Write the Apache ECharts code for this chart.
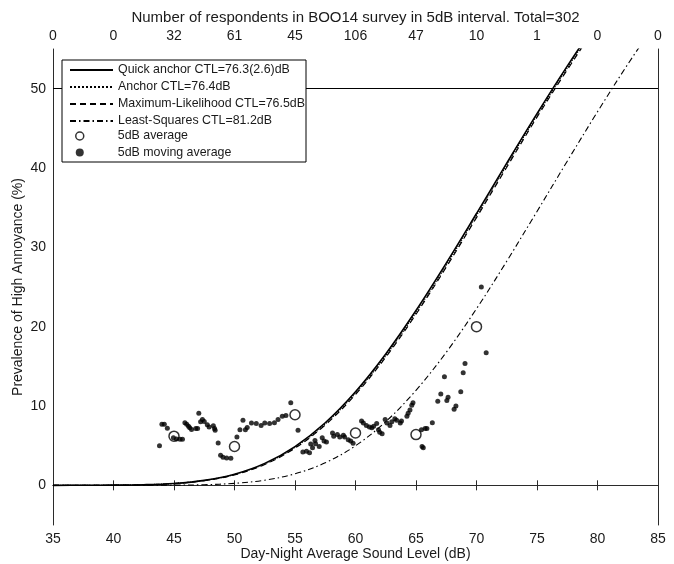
<!DOCTYPE html>
<html>
<head>
<meta charset="utf-8">
<script src="https://cdn.jsdelivr.net/npm/echarts@6/dist/echarts.min.js"></script>
<style>
html,body{margin:0;padding:0;background:#fff;}
#chart{width:674px;height:564px;}
</style>
</head>
<body>
<div id="chart"></div>
<script>
// ---- data ----
const levels = [35, 37.5, 40, 42.5, 45, 47.5, 50, 52.5, 55, 57.5, 60, 62.5, 65, 67.5, 70, 72.5, 75, 77.5, 80, 82.5, 85];
const quickAnchor = [0.0006, 0.004, 0.02, 0.078, 0.24, 0.63, 1.41, 2.77, 4.89, 7.89, 11.80, 16.56, 22.03, 28.00, 34.26, 40.61, 46.85, 52.84, 58.46, 63.65, 68.39];
const anchor = [0.0006, 0.0038, 0.019, 0.074, 0.232, 0.608, 1.365, 2.70, 4.79, 7.75, 11.63, 16.35, 21.80, 27.75, 34.01, 40.36, 46.65, 52.61, 58.28, 63.46, 68.2];
const maxLikelihood = [0.0005, 0.0035, 0.018, 0.070, 0.223, 0.587, 1.325, 2.63, 4.69, 7.61, 11.46, 16.15, 21.57, 27.51, 33.75, 40.10, 46.41, 52.37, 58.07, 63.26, 68.0];
const leastSquares = [0, 0, 0.0007, 0.004, 0.021, 0.082, 0.25, 0.65, 1.45, 2.84, 4.99, 8.02, 11.98, 16.77, 22.26, 28.25, 34.52, 40.86, 47.09, 53.07, 58.68];

const avgLevels = [45, 50, 55, 60, 65, 70];
const avgValues = [6.2, 4.9, 8.9, 6.6, 6.4, 20.0];

const movLevels = [43.8, 44.0, 44.2, 44.45, 44.95, 45.2, 45.5, 45.7, 45.9, 46.05, 46.2, 46.3, 46.45, 46.8, 46.95,
  47.05, 47.2, 47.35, 47.5, 47.75, 47.9, 48.25, 48.35, 48.4, 48.65, 48.85, 49.05, 49.35, 49.7,
  50.2, 50.45, 50.7, 50.9, 51.05, 51.4, 51.8, 52.2, 52.5, 52.9, 53.3, 53.6, 53.95, 54.25, 54.65,
  55.25, 55.65, 55.95, 56.2, 56.3, 56.45, 56.65, 56.7, 57.0, 57.25, 57.4, 57.6, 58.1, 58.2, 58.5, 58.7,
  59.0, 59.1, 59.4, 59.6, 59.8, 60.5, 60.65, 60.9, 61.15, 61.35, 61.5, 61.75, 61.9, 62.0, 62.2,
  62.45, 62.6, 62.85, 63.0, 63.25, 63.4, 63.7, 63.8, 64.25, 64.35, 64.5, 64.65, 64.75,
  65.45, 65.5, 65.6, 65.75, 65.9, 66.35, 66.8, 67.05, 67.35, 67.55, 67.65, 68.15, 68.3, 68.7, 68.9, 69.05, 70.4, 70.8];
const movValues = [5.0, 7.7, 7.7, 7.2, 6.0, 5.85, 5.8, 5.8, 7.9, 7.7, 7.45, 7.25, 7.05, 7.15, 7.15,
  9.1, 8.0, 8.3, 8.05, 7.65, 7.35, 7.5, 7.15, 6.95, 5.35, 3.8, 3.55, 3.45, 3.4,
  6.1, 7.0, 8.2, 7.0, 7.3, 7.85, 7.8, 7.55, 7.85, 7.8, 7.9, 8.3, 8.7, 8.8, 10.4,
  6.95, 4.2, 4.3, 4.1, 5.2, 4.75, 5.65, 5.25, 4.9, 6.0, 5.6, 5.45, 6.6, 6.2, 6.4, 6.1,
  6.3, 6.1, 5.75, 5.6, 5.3, 8.1, 7.85, 7.55, 7.35, 7.25, 7.45, 7.8, 7.0, 6.7, 6.5,
  8.3, 7.85, 7.55, 8.0, 8.4, 8.2, 7.85, 8.1, 8.7, 9.1, 9.5, 10.1, 10.4,
  7.0, 4.9, 4.75, 7.15, 7.15, 7.9, 10.6, 11.5, 13.7, 10.7, 11.1, 9.6, 10.0, 11.8, 14.2, 15.35, 25.0, 16.7];

const respondents = [0, 0, 32, 61, 45, 106, 47, 10, 1, 0, 0];
const yTickValues = [0, 10, 20, 30, 40, 50];
const criterionLine = 50;

const names = {
  qa: 'Quick anchor CTL=76.3(2.6)dB',
  an: 'Anchor CTL=76.4dB',
  ml: 'Maximum-Likelihood CTL=76.5dB',
  ls: 'Least-Squares CTL=81.2dB',
  avg: '5dB average',
  mov: '5dB moving average'
};

function zip(xs, ys) { return xs.map((x, i) => [x, ys[i]]); }

const FONT = 'Liberation Sans, Arial, sans-serif';
const TXT = '#1a1a1a';
const AX = '#2b2b2b';

const chart = echarts.init(document.getElementById('chart'), null, { renderer: 'canvas' });

function lineSeries(name, values, lineStyle) {
  return {
    name: name, type: 'line', data: zip(levels, values),
    symbol: 'none', showSymbol: false, smooth: 0.35, clip: true,
    lineStyle: Object.assign({ color: '#000' }, lineStyle),
    itemStyle: { color: '#000' },
    emphasis: { disabled: true }, z: 2
  };
}

const qaSeries = lineSeries(names.qa, quickAnchor, { width: 1.6, type: 'solid' });
qaSeries.markLine = {
  silent: true, symbol: 'none', label: { show: false },
  lineStyle: { color: '#000', width: 1.2, type: 'solid' },
  data: [{ yAxis: criterionLine }], z: 3
};

const option = {
  animation: false,
  backgroundColor: '#fff',
  textStyle: { fontFamily: FONT },
  grid: { left: 53, right: 16, top: 49, bottom: 39, containLabel: false, outerBoundsMode: 'none' },
  xAxis: [{
    type: 'value', position: 'bottom', min: 35, max: 85, interval: 5,
    name: 'Day-Night Average Sound Level (dB)', nameLocation: 'middle', nameGap: 22, nameMoveOverlap: false,
    nameTextStyle: { fontSize: 14, color: TXT, fontFamily: FONT },
    axisLine: { show: true, lineStyle: { color: AX, width: 1 } },
    axisTick: { show: true, inside: true, length: 5, lineStyle: { color: AX } },
    axisLabel: { fontSize: 14, color: TXT, margin: 7, fontFamily: FONT },
    splitLine: { show: false }
  }, {
    type: 'value', position: 'top', min: 35, max: 85, interval: 5,
    name: 'Number of respondents in BOO14 survey in 5dB interval. Total=302', nameLocation: 'middle', nameGap: 24, nameMoveOverlap: false,
    nameTextStyle: { fontSize: 15, color: TXT, fontFamily: FONT },
    axisLine: { show: true, lineStyle: { color: AX, width: 1 } },
    axisTick: { show: true, inside: true, length: 5, lineStyle: { color: AX } },
    axisLabel: {
      fontSize: 14, color: TXT, margin: 6, fontFamily: FONT,
      formatter: function (v) { const i = Math.round((v - 35) / 5); return respondents[i] != null ? String(respondents[i]) : ''; }
    },
    splitLine: { show: false }
  }],
  yAxis: [{
    type: 'value', position: 'left', min: -5, max: 55, interval: 5,
    name: 'Prevalence of High Annoyance (%)', nameLocation: 'middle', nameGap: 28, nameRotate: 90, nameMoveOverlap: false,
    nameTextStyle: { fontSize: 14, color: TXT, fontFamily: FONT },
    axisLine: { show: true, lineStyle: { color: AX, width: 1 } },
    axisTick: { show: false },
    axisLabel: {
      fontSize: 14, color: TXT, margin: 7, fontFamily: FONT,
      customValues: yTickValues,
      formatter: function (v) { return yTickValues.indexOf(v) >= 0 ? String(v) : ''; }
    },
    splitLine: { show: false }
  }, {
    type: 'value', position: 'right', min: -5, max: 55, interval: 5,
    axisLine: { show: true, lineStyle: { color: AX, width: 1 } },
    axisTick: { show: false }, axisLabel: { show: false }, splitLine: { show: false }
  }],
  graphic: [{
    type: 'rect', z: 9, silent: true,
    shape: { x: 62, y: 60, width: 244, height: 102 },
    style: { fill: '#fff', stroke: '#000', lineWidth: 1 }
  }],
  legend: [{
    z: 10, orient: 'vertical', left: 69, top: 64, padding: 0,
    itemWidth: 43, itemHeight: 12, itemGap: 5,
    selectedMode: false,
    itemStyle: { opacity: 0 },
    textStyle: { fontSize: 12.4, color: TXT, fontFamily: FONT },
    data: [names.qa, names.an, names.ml, names.ls]
  }, {
    z: 10, orient: 'vertical', left: 75, top: 130, padding: 0,
    itemWidth: 8, itemHeight: 8, itemGap: 4.5,
    selectedMode: false,
    textStyle: { fontSize: 12.4, color: TXT, fontFamily: FONT, padding: [0, 0, 0, 29] },
    data: [
      { name: names.avg, icon: 'circle', itemStyle: { color: '#fff', borderColor: '#000', borderWidth: 1.5 } },
      { name: names.mov, icon: 'circle', itemStyle: { color: '#000', borderWidth: 0 } }
    ]
  }],
  series: [
    qaSeries,
    lineSeries(names.an, anchor, { width: 1.2, type: 'dotted' }),
    lineSeries(names.ml, maxLikelihood, { width: 1.2, type: [6, 4] }),
    lineSeries(names.ls, leastSquares, { width: 1.1, type: [6, 3, 1.5, 3] }),
    {
      name: names.avg, type: 'scatter', data: zip(avgLevels, avgValues),
      symbol: 'circle', symbolSize: 10,
      itemStyle: { color: '#fff', borderColor: '#000', borderWidth: 1.5 },
      emphasis: { disabled: true }, z: 4
    },
    {
      name: names.mov, type: 'scatter', data: zip(movLevels, movValues),
      symbol: 'circle', symbolSize: 5,
      itemStyle: { color: '#000' },
      emphasis: { disabled: true }, z: 5
    }
  ]
};

chart.setOption(option);
</script>
</body>
</html>
